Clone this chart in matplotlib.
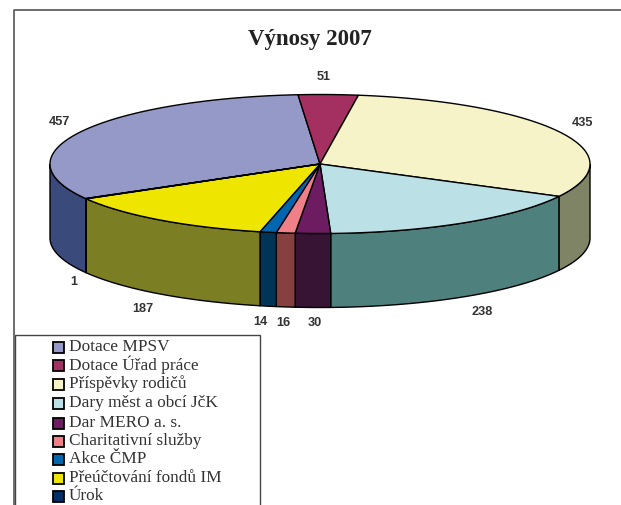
import matplotlib
matplotlib.use("Agg")
import matplotlib.pyplot as plt
import numpy as np
from matplotlib.patches import Polygon, Rectangle

labels = ["Dotace MPSV", "Dotace Úřad práce", "Příspěvky rodičů", "Dary měst a obcí JčK",
          "Dar MERO a. s.", "Charitativní služby", "Akce ČMP", "Přeúčtování fondů IM", "Úrok"]
values = [457, 51, 435, 238, 30, 16, 14, 187, 1]
top_colors = ["#9499C8", "#A33060", "#F7F3C9", "#BBE1E6", "#6E1C62", "#F08088", "#0066B0", "#EEE600", "#002F66"]
side_colors = ["#3A4A7A", "#5A1838", "#7E8465", "#4E807E", "#371334", "#864040", "#003558", "#7B7E22", "#001A38"]

cx, cy, rx, ry, depth = 320, 164, 270, 69.5, 74
start = -119.8  # degrees clockwise from the top

fig = plt.figure(figsize=(6.21, 5.05), dpi=100)
ax = fig.add_axes([0, 0, 1, 1])
ax.set_xlim(0, 621)
ax.set_ylim(505, 0)
ax.axis("off")


def rim(a):
    a = np.radians(a)
    return cx + rx * np.sin(a), cy - ry * np.cos(a)


angles = start + np.cumsum([0] + values) * 360 / sum(values)

# side walls first, only the front half of the rim shows
for i in range(len(values)):
    for shift in (-360, 0):
        a0 = max(angles[i], 90 + shift)
        a1 = min(angles[i + 1], 270 + shift)
        if a1 <= a0:
            continue
        t = np.linspace(a0, a1, 60)
        x, y = rim(t)
        pts = np.r_[np.c_[x, y], np.c_[x[::-1], y[::-1] + depth]]
        ax.add_patch(Polygon(pts, closed=True, fc=side_colors[i], ec="black", lw=1))

for i in range(len(values)):
    t = np.linspace(angles[i], angles[i + 1], 120)
    x, y = rim(t)
    pts = np.r_[[[cx, cy]], np.c_[x, y]]
    ax.add_patch(Polygon(pts, closed=True, fc=top_colors[i], ec="black", lw=1))

# frame and legend box
ax.plot([14, 14, 621], [505, 10, 10], color="#555555", lw=1.2)
ax.add_patch(Rectangle((15, 335), 245, 175, fc="white", ec="#444444", lw=1))

ax.text(309.5, 40, "Výnosy 2007", family="Liberation Serif", fontsize=16.5, fontweight="bold",
        ha="center", va="center", color="#222222")

value_pos = [(59, 122), (324, 77), (582, 123), (482, 312), (315, 323), (283, 323), (260, 322), (143, 309), (74, 282)]
for v, (x, y) in zip(values, value_pos):
    ax.text(x, y, str(v), family="Liberation Sans", fontsize=9.2, fontweight="bold",
            ha="center", va="center", color="#333333")

legend_y = [347, 365, 384, 403, 423, 441, 459, 478, 496]
for name, col, y in zip(labels, top_colors, legend_y):
    ax.add_patch(Rectangle((53, y - 5), 11, 11, fc=col, ec="black", lw=1.3))
    ax.text(69, y, name, family="Liberation Serif", fontsize=12.4, va="center", color="#333333")

fig.savefig("out.png", dpi=100)
